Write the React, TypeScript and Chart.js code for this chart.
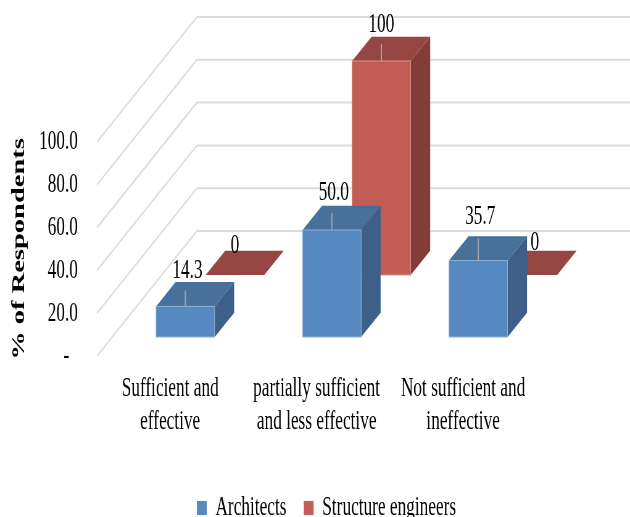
import React, { useEffect, useRef } from "react";
import { Chart, registerables } from "chart.js";

Chart.register(...registerables);

const categories = [
  ["Sufficient and", "effective"],
  ["partially sufficient", "and less effective"],
  ["Not sufficient and", "ineffective"],
];
const architects = [14.3, 50.0, 35.7];
const structureEngineers = [0, 100, 0];
const architectLabels = ["14.3", "50.0", "35.7"];
const engineerLabels = ["0", "100", "0"];
const seriesNames = ["Architects", "Structure engineers"];
const yAxisTitle = "% of Respondents";

// The whole drawing is laid out wide and squeezed horizontally by CSS, which
// gives the tall, narrow lettering.
const SQUEEZE = 1.62;
const WIDTH = Math.round(630 * SQUEEZE);
const HEIGHT = 517;
const sx = (v: number) => v * SQUEEZE;

// Oblique projection of the floor: how far the back wall sits from the front edge.
const WALL_DX = sx(100);
const WALL_DY = 125;
// Depth position of each series along the floor, and depth of one box.
const SERIES_DEPTH = [0.152, 0.648];
const BOX_DEPTH = 0.195;

const FACE_COLORS = [
  { front: "#5689bf", top: "#47709b", side: "#3e5f87", edge: "#8fb0d6" },
  { front: "#c45c56", top: "#964643", side: "#843c39", edge: "#d88f8b" },
];
const GRID_COLOR = "#dcdcdc";
const LEADER_COLOR = "#a6a6a6";
const FONT = "'Liberation Serif'";
const TEXT_SIZE = 28;

function fillPoly(ctx: CanvasRenderingContext2D, pts: number[][], color: string) {
  ctx.beginPath();
  pts.forEach(([x, y], i) => (i ? ctx.lineTo(x, y) : ctx.moveTo(x, y)));
  ctx.closePath();
  ctx.fillStyle = color;
  ctx.fill();
}

const wall3d = {
  id: "wall3d",
  afterLayout(chart: any) {
    const legend = chart.legend;
    const pad = legend.options.labels.padding;
    legend.left = sx(197) - pad;
    legend.right = WIDTH;
    legend.top = 508 - TEXT_SIZE / 2 - pad;
  },
  // The library's flat rectangles give way to the boxes drawn below.
  beforeDatasetDraw() {
    return false;
  },
  beforeDatasetsDraw(chart: any) {
    const { ctx, chartArea, scales } = chart;
    ctx.save();
    ctx.strokeStyle = GRID_COLOR;
    ctx.lineWidth = 2;
    scales.y.ticks.forEach((t: any) => {
      const y = scales.y.getPixelForValue(t.value);
      ctx.beginPath();
      ctx.moveTo(chartArea.left, y);
      ctx.lineTo(chartArea.left + WALL_DX, y - WALL_DY);
      ctx.lineTo(WIDTH, y - WALL_DY);
      ctx.stroke();
    });
    ctx.restore();
  },
  afterDatasetsDraw(chart: any) {
    const { ctx } = chart;
    const dx = WALL_DX * BOX_DEPTH;
    const dy = WALL_DY * BOX_DEPTH;
    const project = (di: number, i: number) => {
      const el = chart.getDatasetMeta(di).data[i];
      const { x, y, base, width } = el.getProps(["x", "y", "base", "width"], true);
      const ox = WALL_DX * SERIES_DEPTH[di];
      const oy = WALL_DY * SERIES_DEPTH[di];
      return { l: x - width / 2 + ox, r: x + width / 2 + ox, t: y - oy, b: base - oy, cx: x + ox };
    };

    // Rear series first so the front row overlaps it.
    [1, 0].forEach((di) => {
      const c = FACE_COLORS[di];
      categories.forEach((_, i) => {
        const { l, r, t, b } = project(di, i);
        fillPoly(ctx, [[r, t], [r + dx, t - dy], [r + dx, b - dy], [r, b]], c.side);
        fillPoly(ctx, [[l, t], [l + dx, t - dy], [r + dx, t - dy], [r, t]], c.top);
        if (b - t > 0.5) {
          fillPoly(ctx, [[l, t], [r, t], [r, b], [l, b]], c.front);
          ctx.save();
          ctx.strokeStyle = c.edge;
          ctx.lineWidth = 1;
          ctx.strokeRect(l, t, r - l, b - t);
          ctx.restore();
        }
      });
    });

    // Value labels with their short leader lines.
    const labels = [architectLabels, engineerLabels];
    const leaderLengths = [[16, 17, 22], [0, 17, 0]];
    const labelRise = [[36, 37, 44], [29, 36, 32]];
    const labelShift = [[2, 2, 2], [0, 0, 7]];
    ctx.save();
    ctx.font = `${TEXT_SIZE}px ${FONT}`;
    ctx.textAlign = "center";
    ctx.textBaseline = "middle";
    [0, 1].forEach((di) => {
      categories.forEach((_, i) => {
        const { cx, t } = project(di, i);
        if (leaderLengths[di][i]) {
          ctx.strokeStyle = LEADER_COLOR;
          ctx.lineWidth = 2;
          ctx.beginPath();
          ctx.moveTo(cx, t);
          ctx.lineTo(cx, t - leaderLengths[di][i]);
          ctx.stroke();
        }
        ctx.fillStyle = "#000";
        ctx.fillText(labels[di][i], cx + sx(labelShift[di][i]), t - labelRise[di][i]);
      });
    });
    ctx.restore();
  },
};

export default function App() {
  const ref = useRef<HTMLCanvasElement>(null);

  useEffect(() => {
    document.body.style.margin = "0";
    const chart = new Chart(ref.current!, {
      type: "bar",
      data: {
        labels: categories,
        datasets: [
          { label: seriesNames[0], data: architects, backgroundColor: FACE_COLORS[0].front },
          { label: seriesNames[1], data: structureEngineers, backgroundColor: FACE_COLORS[1].front },
        ],
      },
      plugins: [wall3d],
      options: {
        responsive: false,
        animation: false,
        devicePixelRatio: 1,
        datasets: { bar: { grouped: false, barPercentage: 0.4, categoryPercentage: 1 } },
        layout: { padding: { top: 142, left: 0, right: WIDTH - sx(536.5), bottom: 0 } },
        font: { family: FONT },
        scales: {
          x: {
            grid: { display: false, drawTicks: false },
            border: { display: false },
            afterFit(s: any) {
              s.height = HEIGHT - 356 - (s.chart.legend?.height ?? 84);
            },
            ticks: {
              color: "#000",
              font: { family: FONT, size: TEXT_SIZE, lineHeight: 33 / TEXT_SIZE },
              padding: 16,
              maxRotation: 0,
              autoSkip: false,
            },
          },
          y: {
            min: 0,
            max: 100,
            grid: { display: false, drawTicks: false },
            border: { display: false },
            afterFit(s: any) {
              s.width = sx(97);
            },
            title: {
              display: true,
              text: yAxisTitle,
              color: "#000",
              font: { family: FONT, size: 28.5, weight: "bold", lineHeight: 1 },
              padding: { top: 17, bottom: 0 },
            },
            ticks: {
              stepSize: 20,
              color: "#000",
              padding: sx(19),
              font: { family: FONT, size: TEXT_SIZE },
              callback: (v: any) => (Number(v) === 0 ? "-  " : Number(v).toFixed(1)),
            },
          },
        },
        plugins: {
          tooltip: { enabled: false },
          legend: {
            position: "bottom",
            align: "start",
            labels: {
              color: "#000",
              font: { family: FONT, size: TEXT_SIZE },
              boxWidth: 16,
              boxHeight: 14,
              padding: 28,
            },
          },
        },
      },
    } as any);
    return () => chart.destroy();
  }, []);

  return (
    <div style={{ position: "absolute", left: 0, top: 0, width: 630, height: HEIGHT, overflow: "hidden", background: "#fff" }}>
      <canvas
        ref={ref}
        width={WIDTH}
        height={HEIGHT}
        style={{ transform: `scaleX(${630 / WIDTH})`, transformOrigin: "0 0", display: "block" }}
      />
    </div>
  );
}
